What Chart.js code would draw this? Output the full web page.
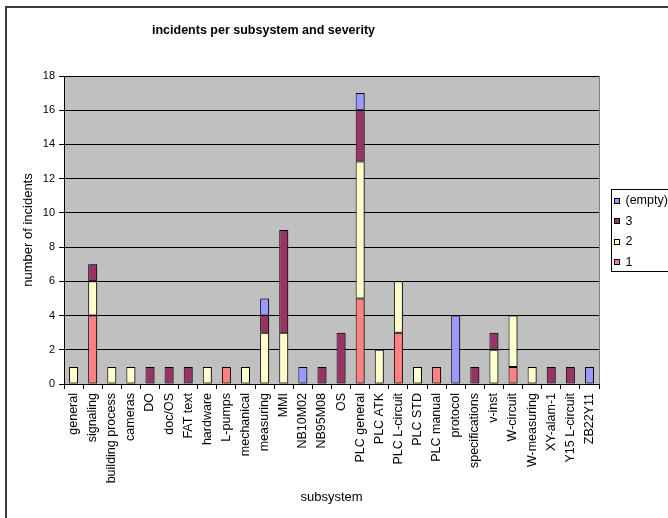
<!DOCTYPE html>
<html>
<head>
<meta charset="utf-8">
<title>incidents per subsystem and severity</title>
<script src="https://cdn.jsdelivr.net/npm/chart.js@4.4.1/dist/chart.umd.min.js"></script>
<style>
  html, body { margin: 0; padding: 0; background: #fff; }
  canvas { display: block; }
</style>
</head>
<body>
<canvas id="chart" width="668" height="518"></canvas>
<script>
// Subsystems on the category axis
const subsystems = [
  'general', 'signaling', 'building process', 'cameras', 'DO', 'doc/OS', 'FAT text',
  'hardware', 'L-pumps', 'mechanical', 'measuring', 'MMI', 'NB10M02', 'NB95M08', 'OS',
  'PLC general', 'PLC ATK', 'PLC L-circuit', 'PLC STD', 'PLC manual', 'protocol',
  'specifications', 'v-inst', 'W-circuit', 'W-measuring', 'XY-alam-1', 'Y15 L-circuit', 'ZB22Y11'
];

// Incident counts per severity (null = no incidents)
const severity1 = [null, 4, null, null, null, null, null, null, 1, null, null, null, null, null, null, 5, null, 3, null, 1, null, null, null, 1, null, null, null, null];
const severity2 = [1, 2, 1, 1, null, null, null, 1, null, 1, 3, 3, null, null, null, 8, 2, 3, 1, null, null, null, 2, 3, 1, null, null, null];
const severity3 = [null, 1, null, null, 1, 1, 1, null, null, null, 1, 6, null, 1, 3, 3, null, null, null, null, null, 1, 1, null, null, 1, 1, null];
const severityEmpty = [null, null, null, null, null, null, null, null, null, null, 1, null, 1, null, null, 1, null, null, null, null, 4, null, null, null, null, null, null, 1];

const seriesNames = ['1', '2', '3', '(empty)'];
const seriesColors = ['#FF8080', '#FFFFCC', '#993366', '#9999FF'];

const chartTitle = 'incidents per subsystem and severity';

// Y axis range
const yMin = 0;
const yMax = 18;
const yStep = 2;

const FONT = "'Liberation Sans', Arial, sans-serif";

const plotBackground = {
  id: 'plotBackground',
  beforeDraw(chart) {
    const { ctx, chartArea: a } = chart;
    ctx.save();
    // outer chart frame
    ctx.strokeStyle = '#3a3a3a';
    ctx.lineWidth = 2;
    ctx.strokeRect(6, 7, 700, 600);
    // grey plot area
    ctx.fillStyle = '#C0C0C0';
    ctx.fillRect(a.left, a.top, a.right - a.left, a.bottom - a.top);
    ctx.strokeStyle = '#808080';
    ctx.lineWidth = 1;
    ctx.strokeRect(a.left + 0.5, a.top + 0.5, a.right - a.left, a.bottom - a.top);
    // chart title, centred over the full (wider) chart frame
    ctx.fillStyle = '#000';
    ctx.font = 'bold 12.5px ' + FONT;
    ctx.textAlign = 'center';
    ctx.textBaseline = 'alphabetic';
    ctx.fillText(chartTitle, 263.5, 33.5);
    ctx.restore();
  }
};

const barShadow = {
  id: 'barShadow',
  beforeDatasetsDraw(chart) {
    const ctx = chart.ctx;
    ctx.save();
    ctx.shadowColor = 'rgba(0,0,0,0.35)';
    ctx.shadowOffsetX = 2;
    ctx.shadowOffsetY = 0;
    ctx.shadowBlur = 0;
  },
  afterDatasetsDraw(chart) {
    chart.ctx.restore();
  }
};

// Boxed legend on the right, top series first
const boxLegend = {
  id: 'boxLegend',
  afterDraw(chart) {
    const ctx = chart.ctx;
    const sets = chart.data.datasets.slice().reverse();
    const x = 611, y = 189, w = 60, h = 82;
    ctx.save();
    ctx.fillStyle = '#fff';
    ctx.fillRect(x, y, w, h);
    ctx.strokeStyle = '#000';
    ctx.lineWidth = 1;
    ctx.strokeRect(x + 0.5, y + 0.5, w, h);
    ctx.font = '12.5px ' + FONT;
    ctx.textBaseline = 'middle';
    ctx.textAlign = 'left';
    sets.forEach((ds, i) => {
      const cy = 201 + i * 20.4;
      ctx.fillStyle = ds.backgroundColor;
      ctx.fillRect(614, Math.round(cy) - 3, 6, 6);
      ctx.strokeStyle = '#000';
      ctx.strokeRect(614.5, Math.round(cy) - 2.5, 5, 5);
      ctx.fillStyle = '#000';
      ctx.fillText(ds.label, 625.5, cy);
    });
    ctx.restore();
  }
};

const seriesData = [severity1, severity2, severity3, severityEmpty];

new Chart(document.getElementById('chart'), {
  type: 'bar',
  data: {
    labels: subsystems,
    datasets: seriesData.map((d, i) => ({
      label: seriesNames[i],
      data: d,
      backgroundColor: seriesColors[i],
      borderColor: '#000',
      borderWidth: 1,
      borderSkipped: false,
      categoryPercentage: 1,
      barPercentage: 0.47
    }))
  },
  options: {
    responsive: false,
    animation: false,
    layout: { padding: { left: 0, right: 69, top: 76, bottom: 0 } },
    plugins: {
      legend: { display: false },
      tooltip: { enabled: false },
      title: { display: false }
    },
    scales: {
      x: {
        stacked: true,
        border: { display: true, color: '#000', width: 1 },
        grid: { drawOnChartArea: false, drawTicks: true, tickLength: 5, color: '#000', offset: true },
        ticks: {
          color: '#000',
          font: { family: FONT, size: 12.5 },
          minRotation: 90,
          maxRotation: 90,
          autoSkip: false,
          padding: 4
        },
        title: {
          display: true,
          text: 'subsystem',
          color: '#000',
          font: { family: FONT, size: 13, lineHeight: 1.2 },
          padding: { top: 0, bottom: 13 }
        },
        afterFit(scale) { scale.height = 134; }
      },
      y: {
        stacked: true,
        min: yMin,
        max: yMax,
        border: { display: true, color: '#000', width: 1 },
        grid: { color: '#000', tickLength: 5, drawTicks: true },
        ticks: {
          stepSize: yStep,
          color: '#000',
          font: { family: FONT, size: 11 },
          padding: 4
        },
        title: {
          display: true,
          text: 'number of incidents',
          color: '#000',
          font: { family: FONT, size: 13, lineHeight: 1.2 },
          padding: { top: 21, bottom: 0 }
        },
        afterFit(scale) { scale.width = 64; }
      }
    }
  },
  plugins: [plotBackground, barShadow, boxLegend]
});
</script>
</body>
</html>
